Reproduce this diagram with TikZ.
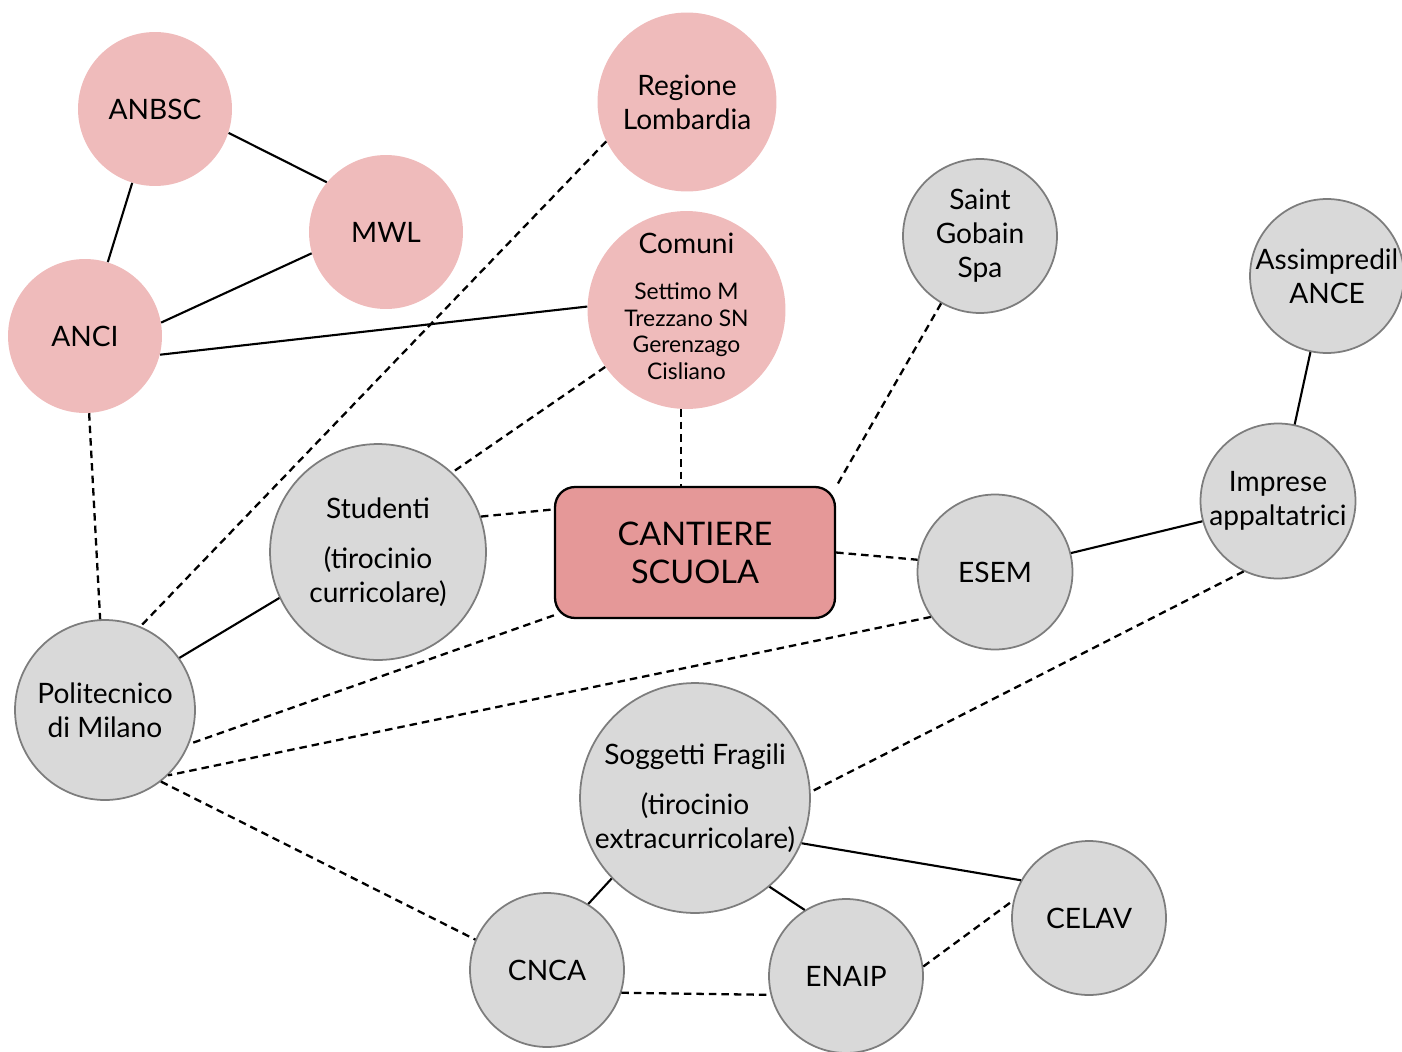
\documentclass[tikz,border=0pt]{standalone}
\usepackage{fontspec}
\setmainfont{Lato}
\definecolor{rosa}{RGB}{239,187,187}
\definecolor{rosascuro}{RGB}{229,152,152}
\definecolor{grigio}{RGB}{217,217,217}
\definecolor{grigiobordo}{RGB}{125,125,125}
\newcommand{\elencofont}{\fontsize{13}{15}\selectfont}
\begin{document}
\begin{tikzpicture}%
	[x={(0.02cm, 0cm)},
	y={(0cm, -0.02cm)},
	ente/.style={circle, fill=rosa, align=center, inner sep=0pt, font=\fontsize{16}{19.4}\selectfont},
	attore/.style={circle, fill=grigio, draw=grigiobordo, line width=1pt, align=center, inner sep=0pt, font=\fontsize{16}{19.4}\selectfont},
	centro/.style={rectangle, rounded corners=0.4cm, fill=rosascuro, draw=black, line width=1.3pt, align=center, minimum width=5.6cm, minimum height=2.62cm, font=\fontsize{18.5}{21.5}\selectfont},
	legame/.style={black, line width=1.2pt},
	legamedebole/.style={black, line width=1.3pt, dash pattern=on 0.15cm off 0.1cm}]
%
%% Margins of the page
\useasboundingbox (0,0) rectangle (1402,1051);
%%
%% Enti (pink)
%%
\node[ente, minimum size=3.08cm] (anbsc) at (155,109) {ANBSC};
\node[ente, minimum size=3.08cm] (mwl) at (386,232) {MWL};
\node[ente, minimum size=3.08cm] (anci) at (85,336) {ANCI};
\node[ente, minimum size=3.58cm] (regione) at (687,102) {Regione\\Lombardia};
\node[ente, minimum size=3.94cm] (comuni) at (686.5,310) {Comuni\\[7pt]{\elencofont\begin{tabular}[t]{@{}c@{}}Settimo M\\Trezzano SN\\Gerenzago\\Cisliano\end{tabular}}};
%%
%% Cantiere scuola
%%
\node[centro] (cantiere) at (695,552.5) {CANTIERE\\SCUOLA};
%%
%% Attori (grey)
%%
\node[attore, minimum size=3.08cm] (saint) at (980,236) {Saint\\Gobain\\Spa};
\node[attore, minimum size=3.08cm] (assimpredil) at (1327,276) {Assimpredil\\ANCE};
\node[attore, minimum size=3.1cm] (imprese) at (1278,501) {Imprese\\appaltatrici};
\node[attore, minimum size=3.1cm] (esem) at (995,572) {ESEM};
\node[attore, minimum size=4.32cm] (studenti) at (378,552) {Studenti\\[9pt](tirocinio\\curricolare)};
\node[attore, minimum size=3.6cm] (polimi) at (105,710) {Politecnico\\di Milano};
\node[attore, minimum size=4.6cm] (soggetti) at (695,798) {Soggetti Fragili\\[9pt](tirocinio\\extracurricolare)};
\node[attore, minimum size=3.08cm] (cnca) at (547,970) {CNCA};
\node[attore, minimum size=3.08cm] (enaip) at (846,976) {ENAIP};
\node[attore, minimum size=3.08cm] (celav) at (1089,918) {CELAV};
%%
%% Legami diretti
%%
\draw[legame] (anbsc.-18) -- (mwl.140);
\draw[legame] (anbsc) -- (anci);
\draw[legame] (anci.10) -- (mwl.196);
\draw[legame] (anci.-14) -- (comuni.178);
\draw[legame] (polimi.35) -- (studenti.205);
\draw[legame] (assimpredil) -- (imprese);
\draw[legame] (esem.14) -- (imprese.195);
\draw[legame] (soggetti.224) -- (cnca.58);
\draw[legame] (soggetti.-50) -- (enaip.122);
\draw[legame] (soggetti.-23) -- (celav.151);
%%
%% Legami indiretti
%%
\draw[legamedebole] (anci) -- (polimi);
\draw[legamedebole] (regione.206) -- (polimi.67);
\draw[legamedebole] (comuni.215) -- (studenti.47);
\draw[legamedebole] (comuni.-93) -- (comuni.-93 |- cantiere.north);
\draw[legamedebole] (saint.-120) -- (cantiere.25);
\draw[legamedebole] (studenti.19) -- (cantiere.163);
\draw[legamedebole] (cantiere.east) -- (esem.171);
\draw[legamedebole] (cantiere.204) -- (polimi.-22);
\draw[legamedebole] (esem.215) -- (polimi.-46);
\draw[legamedebole] (imprese.244) -- (soggetti.3);
\draw[legamedebole] (polimi.-52) -- (cnca.157);
\draw[legamedebole] (cnca.-17) -- (enaip.194);
\draw[legamedebole] (enaip.7) -- (celav.167);
%%
\end{tikzpicture}
\end{document}
